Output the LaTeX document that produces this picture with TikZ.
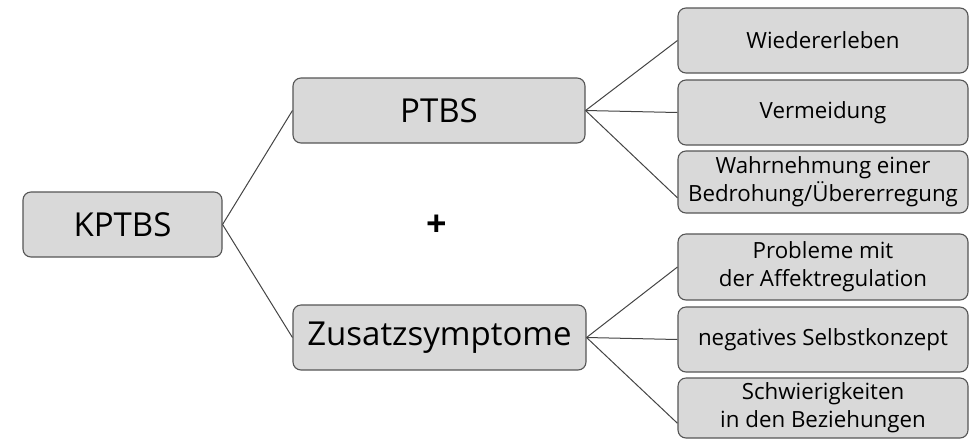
\documentclass[tikz,border=0pt]{standalone}
\usepackage{fontspec}
\setmainfont{Open Sans}
\usetikzlibrary{calc}
\definecolor{boxfill}{HTML}{D9D9D9}
\definecolor{boxline}{HTML}{555555}
\definecolor{conn}{HTML}{444444}
\tikzset{
  box/.style={draw=boxline, fill=boxfill, rounded corners=8pt, line width=1.1pt,
    inner sep=0pt, align=center, text=black},
  bigbox/.style={box, minimum height=65pt, font=\fontsize{33}{38}\selectfont},
  smallbox/.style={box, minimum width=290pt, font=\fontsize{22.3}{28}\selectfont},
  link/.style={draw=conn, line width=1pt}
}
\begin{document}
\begin{tikzpicture}[x=1pt,y=-1pt]
\useasboundingbox (0,0) rectangle (974,440);
\node[bigbox, minimum width=199pt] (k) at (122.5,224.5) {KPTBS};
\node[bigbox, minimum width=292pt] (p) at (439,110.5) {PTBS};
\node[bigbox, minimum width=293pt] (z) at (439.5,337.5) {Zusatzsymptome};
\node[font=\fontsize{36}{40}\selectfont\bfseries] (plus) at (437,226) {+};
\node[smallbox, minimum height=65pt] (w1) at (823,40.5) {Wiedererleben};
\node[smallbox, minimum height=65pt] (w2) at (823,112.5) {Vermeidung};
\node[smallbox, minimum height=62pt] (w3) at (823,182) {Wahrnehmung einer\\Bedrohung/Übererregung};
\node[smallbox, minimum height=66pt] (z1) at (823,267) {Probleme mit\\der Affektregulation};
\node[smallbox, minimum height=65pt] (z2) at (823,339.5) {negatives Selbstkonzept};
\node[smallbox, minimum height=60pt] (z3) at (823,408) {Schwierigkeiten\\in den Beziehungen};
\draw[link] (k.east) -- (p.west);
\draw[link] (k.east) -- (z.west);
\draw[link] (p.east) -- (w1.west);
\draw[link] (p.east) -- (w2.west);
\draw[link] (p.east) -- ($(w3.west)!0.5!(w3.south west)$);
\draw[link] (z.east) -- (z1.west);
\draw[link] (z.east) -- (z2.west);
\draw[link] (z.east) -- ($(z3.west)!0.5!(z3.south west)$);
\end{tikzpicture}
\end{document}
